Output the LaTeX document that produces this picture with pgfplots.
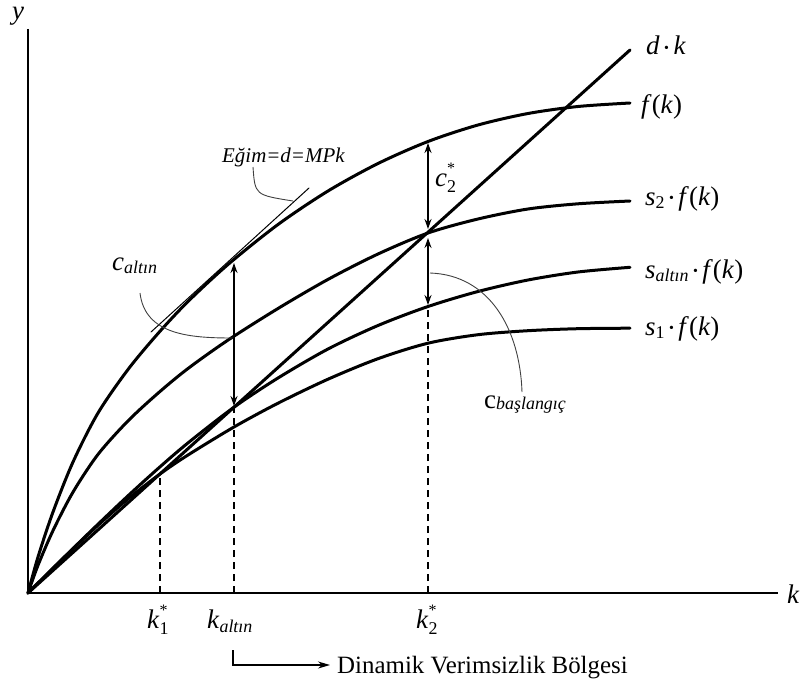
\documentclass[border=0pt]{standalone}
\usepackage{pgfplots}
\pgfplotsset{compat=1.18}
\usepackage{fontspec}
\setmainfont{Liberation Serif}
\usetikzlibrary{arrows.meta}
\newcommand\dt{\,{\fontsize{14}{14}\selectfont\raisebox{0.45ex}{\textbullet}}\,}
\newcommand\bigf{\fontsize{27}{30}\selectfont}
\newcommand\sm{\fontsize{18}{20}\selectfont}
\newcommand\sx{\fontsize{16}{18}\selectfont}
\begin{document}
\begin{tikzpicture}
\begin{axis}[
  scale only axis, width=802bp, height=683bp,
  xmin=0, xmax=802, ymin=0, ymax=683, y dir=reverse,
  axis line style={draw=none}, ticks=none, clip=false,
  every axis plot/.append style={black, line join=round, line cap=round},
]
\path (rel axis cs:0,0) rectangle (rel axis cs:1,1);
% axes
\addplot[line width=1.3bp, line cap=butt] coordinates {(28,29) (28,593) (778,593)};
% f(k)
\addplot[line width=3bp, smooth] coordinates {
(28,593) (38,557) (53,512) (73,462) (98,413) (128,369.5) (158,333.5) (188,301.5)
(228,264.5) (278,224.5) (328,191) (378,163.5) (428,141.5) (478,125) (528,113.5) (578,106.5) (630,103)};
% s2 f(k)
\addplot[line width=3bp, smooth] coordinates {
(28,593) (38,565.3) (53,530.6) (73,492.1) (98,454.4) (128,420.9) (158,393.2) (188,368.5)
(228,340.1) (278,308.5) (328,279.4) (378,254) (428,233) (478,219) (528,209) (578,203.8) (630,201)};
% s_altin f(k)
\addplot[line width=3bp, smooth] coordinates {
(28,593) (38,583.1) (53,568.2) (73,548.5) (98,524.2) (128,495.8) (158,468.6) (188,442.9)
(234,407.2) (278,378) (328,349) (378,325.5) (428,306.5) (478,291.5) (528,280) (578,272) (630,267.3)};
% s1 f(k)
\addplot[line width=3bp, smooth] coordinates {
(28,593) (38,583.1) (53,568.3) (73,548.8) (98,525.3) (128,498.9) (160,474) (188,455)
(234,427) (278,403.2) (328,379.2) (378,358.7) (428,343.2) (478,334.7) (528,330.7) (578,328.7) (630,328.2)};
% d k
\addplot[line width=3bp] coordinates {(28,593) (630,50)};
% tangent
\addplot[line width=1bp] coordinates {(151,332) (309,188)};
% dashed
\addplot[line width=1.2bp, dash pattern=on 7bp off 5bp, line cap=butt] coordinates {(160,593) (160,476)};
\addplot[line width=1.2bp, dash pattern=on 7bp off 5bp, line cap=butt] coordinates {(234,593) (234,409)};
\addplot[line width=1.2bp, dash pattern=on 7bp off 5bp, line cap=butt] coordinates {(428,593) (428,309)};
% arrows
\draw[line width=1.3bp, {Stealth[length=10bp,width=7bp]}-{Stealth[length=10bp,width=7bp]}] (axis cs:234,263) -- (axis cs:234,406);
\draw[line width=1.3bp, {Stealth[length=10bp,width=7bp]}-{Stealth[length=10bp,width=7bp]}] (axis cs:428,143) -- (axis cs:428,229);
\draw[line width=1.3bp, {Stealth[length=10bp,width=7bp]}-{Stealth[length=10bp,width=7bp]}] (axis cs:428,238) -- (axis cs:428,305);
% leaders
\draw[line width=0.9bp, black!75] (axis cs:253,167) .. controls (axis cs:255,195) .. (axis cs:293,201);
\draw[line width=0.9bp, black!75] (axis cs:140,293) .. controls (axis cs:145,335) and (axis cs:190,338) .. (axis cs:233,338);
\draw[line width=0.9bp, black!75] (axis cs:430,273) .. controls (axis cs:490,275) and (axis cs:520,330) .. (axis cs:522,392);
% bottom arrow
\draw[line width=1.3bp, -{Stealth[length=12bp,width=7bp]}] (axis cs:233,650) -- (axis cs:233,665) -- (axis cs:330,665);
% labels
\node[anchor=base west, inner sep=0pt] at (axis cs:337,673) {\fontsize{25}{28}\selectfont Dinamik Verimsizlik Bölgesi};
\node[anchor=base, inner sep=0pt, text height=0.5em, text depth=0.22em] at (axis cs:18,20) {\bigf\itshape y};
\node[inner sep=0pt] at (axis cs:793,594) {\bigf\itshape k};
\node[anchor=base west, inner sep=0pt] at (axis cs:646,55) {\bigf\textit{d}\dt\textit{k}};
\node[anchor=base west, inner sep=0pt] at (axis cs:641,113) {\bigf\textit{f}(\textit{k})};
\node[anchor=base west, inner sep=0pt] at (axis cs:645,205) {\bigf\textit{s}\raisebox{-0.3ex}{\sm 2}\dt\textit{f}(\textit{k})};
\node[anchor=base west, inner sep=0pt] at (axis cs:645,278) {\bigf\textit{s}\raisebox{-0.3ex}{\sm\itshape altın}\dt\textit{f}(\textit{k})};
\node[anchor=base west, inner sep=0pt] at (axis cs:645,335) {\bigf\textit{s}\raisebox{-0.3ex}{\sm 1}\dt\textit{f}(\textit{k})};
\node[anchor=base west, inner sep=0pt] at (axis cs:222,162) {\fontsize{21}{24}\selectfont\itshape Eğim=d=MPk};
\node[anchor=base west, inner sep=0pt] at (axis cs:112,270) {\bigf\textit{c}\raisebox{-0.3ex}{\sm\itshape altın}};
\node[anchor=base west, inner sep=0pt] at (axis cs:435,186) {\bigf\textit{c}\makebox[0pt][l]{\raisebox{1.05ex}{\sx *}}\raisebox{-0.5ex}{\sm 2}};
\node[anchor=base west, inner sep=0pt] at (axis cs:484,408) {\bigf c\raisebox{-0.1ex}{\sm\itshape başlangıç}};
\node[anchor=base west, inner sep=0pt] at (axis cs:147,628) {\bigf\textit{k}\makebox[0pt][l]{\raisebox{1.05ex}{\sx *}}\raisebox{-0.5ex}{\sm 1}};
\node[anchor=base west, inner sep=0pt] at (axis cs:207,628) {\bigf\textit{k}\raisebox{-0.4ex}{\sm\itshape altın}};
\node[anchor=base west, inner sep=0pt] at (axis cs:416,628) {\bigf\textit{k}\makebox[0pt][l]{\raisebox{1.05ex}{\sx *}}\raisebox{-0.5ex}{\sm 2}};
\end{axis}
\end{tikzpicture}
\end{document}
